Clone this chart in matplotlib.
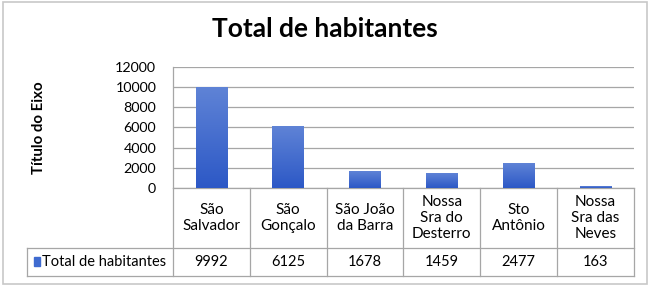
import matplotlib.pyplot as plt
import numpy as np
from matplotlib.colors import LinearSegmentedColormap
from matplotlib.patches import Rectangle

CATEGORIES = ["São\nSalvador", "São\nGonçalo", "São João\nda Barra",
              "Nossa\nSra do\nDesterro", "Sto\nAntônio", "Nossa\nSra das\nNeves"]
VALUES = [9992, 6125, 1678, 1459, 2477, 163]
SERIES_NAME = "Total de habitantes"
Y_TICKS = [0, 2000, 4000, 6000, 8000, 10000, 12000]

plt.rcParams["font.family"] = ["Lato", "DejaVu Sans"]

fig = plt.figure(figsize=(6.5, 2.86), dpi=100)
ax = fig.add_axes([0.266, 0.3427, 0.709, 0.4230])

grid_col = "#a6a6a6"
x = np.arange(len(VALUES)) + 0.5
bars = ax.bar(x, VALUES, width=0.41, color="#3f6bd0", zorder=2)

# vertical gradient on bars like the excel fill
cmap = LinearSegmentedColormap.from_list("g", ["#2c58c6", "#5f83d6"])
grad = np.linspace(0, 1, 256).reshape(-1, 1)
for b in bars:
    bx, by = b.get_x(), b.get_y()
    w, h = b.get_width(), b.get_height()
    im = ax.imshow(grad, cmap=cmap, aspect="auto", origin="lower",
                   extent=[bx, bx + w, by, by + h], zorder=3)
    im.set_clip_path(b)

ax.set_xlim(0, len(VALUES))
ax.set_ylim(0, 12000)
ax.set_yticks(Y_TICKS)
ax.set_yticklabels([str(t) for t in Y_TICKS], fontsize=10.3)
ax.tick_params(axis="y", length=0, pad=12)
ax.set_xticks([])
ax.yaxis.grid(True, color=grid_col, linewidth=0.9, zorder=0)
ax.set_axisbelow(True)
for s in ["top", "right", "bottom"]:
    ax.spines[s].set_visible(False)
ax.spines["left"].set_color(grid_col)
ax.spines["left"].set_linewidth(0.9)

ax.set_ylabel("Título do Eixo", fontsize=10.8, fontweight="bold", labelpad=50)
fig.suptitle("Total de habitantes", x=0.5, y=0.94, fontsize=19, fontweight="bold")

# data table under the axis
tr = ax.transAxes
row1 = -60 / 121
row2 = -88 / 121
left_col = -146 / 461
n = len(VALUES)
lkw = dict(color=grid_col, linewidth=0.9, transform=tr, clip_on=False)
ax.plot([0, 1], [0, 0], **lkw)
ax.plot([left_col, 1], [row1, row1], **lkw)
ax.plot([left_col, 1], [row2, row2], **lkw)
ax.plot([left_col, left_col], [row1, row2], **lkw)
for i in range(n + 1):
    ax.plot([i / n, i / n], [0, row2], **lkw)

for i, (cat, val) in enumerate(zip(CATEGORIES, VALUES)):
    xc = (i + 0.5) / n
    ax.text(xc, row1 / 2, cat, transform=tr, ha="center", va="center",
            fontsize=11, linespacing=1.2)
    ax.text(xc, (row1 + row2) / 2, str(val), transform=tr, ha="center",
            va="center", fontsize=10.5)

ax.add_patch(Rectangle((left_col + 0.016, (row1 + row2) / 2 - 0.035), 0.013, 0.075,
                       transform=tr, color="#3f6bd0", clip_on=False))
ax.text(left_col + 0.033, (row1 + row2) / 2, SERIES_NAME, transform=tr,
        ha="left", va="center", fontsize=10.5)

fig.patches.append(Rectangle((0.004, 0.007), 0.992, 0.986, transform=fig.transFigure,
                             fill=False, edgecolor="#c8c8c8", linewidth=1.2))

fig.savefig("out.png", dpi=100)
